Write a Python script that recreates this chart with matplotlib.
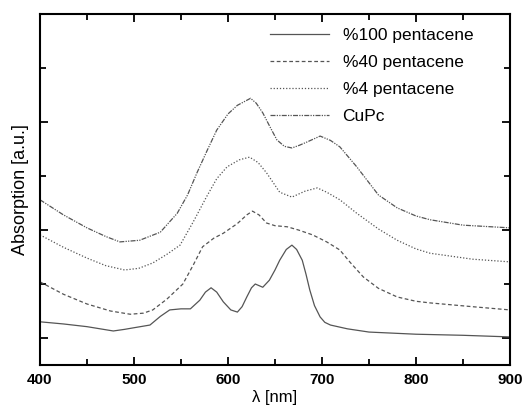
import numpy as np
import matplotlib
matplotlib.use('Agg')
import matplotlib.pyplot as plt

plt.rcParams['font.family'] = ['Liberation Sans', 'DejaVu Sans']

# %100 pentacene
wl_100 = [400, 425, 450, 478, 490, 500, 517, 528, 538, 550, 560, 570, 576, 582, 588, 595,
          603, 610, 615, 620, 625, 629, 633, 637, 644, 650, 655, 662, 668, 673, 679, 683,
          687, 692, 698, 703, 709, 727, 750, 800, 850, 900]
ab_100 = [0.80, 0.76, 0.71, 0.63, 0.66, 0.69, 0.74, 0.90, 1.02, 1.04, 1.04, 1.20, 1.35, 1.43, 1.35, 1.17,
          1.02, 0.98, 1.08, 1.26, 1.43, 1.50, 1.47, 1.44, 1.57, 1.76, 1.94, 2.14, 2.22, 2.14, 1.94, 1.68,
          1.39, 1.10, 0.89, 0.79, 0.74, 0.67, 0.61, 0.57, 0.55, 0.52]

# %40 pentacene
wl_40 = [400, 425, 450, 475, 496, 510, 520, 535, 552, 563, 573, 585, 595, 610, 620, 626,
         633, 641, 650, 663, 675, 690, 705, 719, 730, 744, 760, 780, 800, 815, 860, 900]
ab_40 = [1.54, 1.31, 1.13, 1.00, 0.94, 0.96, 1.02, 1.22, 1.50, 1.85, 2.19, 2.35, 2.44, 2.62, 2.78, 2.85,
         2.78, 2.63, 2.58, 2.56, 2.50, 2.41, 2.28, 2.13, 1.90, 1.63, 1.42, 1.26, 1.18, 1.15, 1.08, 1.02]

# %4 pentacene
wl_4 = [400, 425, 450, 470, 490, 505, 520, 535, 549, 563, 577, 588, 599, 612, 623, 632,
        641, 655, 668, 682, 695, 705, 719, 737, 760, 780, 800, 815, 860, 900]
ab_4 = [2.41, 2.18, 1.98, 1.84, 1.76, 1.79, 1.89, 2.05, 2.22, 2.65, 3.11, 3.45, 3.67, 3.80, 3.85, 3.75,
        3.56, 3.20, 3.11, 3.22, 3.28, 3.20, 3.06, 2.81, 2.52, 2.31, 2.15, 2.07, 1.96, 1.91]

# CuPc
wl_cu = [400, 425, 450, 470, 485, 506, 528, 546, 557, 567, 578, 588, 600, 610, 624, 630,
         637, 645, 652, 660, 668, 676, 684, 698, 709, 719, 737, 760, 780, 800, 815, 850, 900]
ab_cu = [3.06, 2.78, 2.54, 2.38, 2.28, 2.31, 2.46, 2.81, 3.15, 3.56, 3.98, 4.35, 4.65, 4.81, 4.94, 4.85,
         4.67, 4.40, 4.17, 4.05, 4.02, 4.07, 4.13, 4.24, 4.16, 4.04, 3.67, 3.15, 2.91, 2.76, 2.69, 2.59, 2.54]

fig = plt.figure(figsize=(5.24, 4.09), dpi=100)
ax = fig.add_axes([0.0763, 0.1076, 0.897, 0.858])

c = '#555555'
ax.plot(wl_100, ab_100, color=c, lw=0.9, ls='-', label='%100 pentacene')
ax.plot(wl_40, ab_40, color=c, lw=0.9, ls=(0, (3, 2)), label='%40 pentacene')
ax.plot(wl_4, ab_4, color=c, lw=0.9, ls=(0, (1, 1.5)), label='%4 pentacene')
ax.plot(wl_cu, ab_cu, color=c, lw=0.9, ls=(0, (4, 1, 1, 1, 1, 1)), label='CuPc')

ax.set_xlim(400, 900)
ax.set_ylim(0, 6.5)
ax.set_xticks(np.arange(400, 901, 100))
ax.set_xticks(np.arange(450, 900, 100), minor=True)
ax.set_yticks([0.5, 2.5, 4.5])
ax.set_yticks([1.5, 3.5, 5.5], minor=True)
ax.set_yticklabels([])
ax.tick_params(which='both', direction='in', top=True, right=True, width=1.3)
ax.tick_params(which='major', length=6, labelsize=11, pad=6)
ax.tick_params(which='minor', length=4)
for lab in ax.get_xticklabels():
    lab.set_fontweight('bold')
for s in ax.spines.values():
    s.set_linewidth(1.5)

ax.set_xlabel('λ [nm]', fontsize=12, labelpad=2)
ax.set_ylabel('Absorption [a.u.]', fontsize=13, labelpad=2)

ax.legend(loc='upper right', frameon=False, fontsize=12.5, handlelength=3.4,
          labelspacing=0.68, handletextpad=0.8, bbox_to_anchor=(0.955, 1.005))

fig.savefig('out.png', dpi=100)
